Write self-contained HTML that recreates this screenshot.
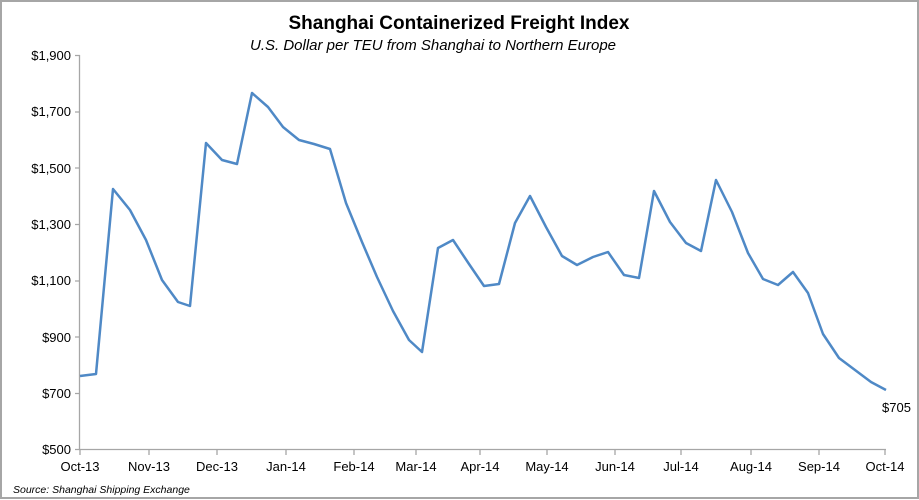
<!DOCTYPE html>
<html><head><style>
body{margin:0;background:#fff;}
svg{display:block;font-family:"Liberation Sans",Arial,sans-serif;}
</style></head><body>
<svg width="919" height="500" viewBox="0 0 919 500">
<rect x="1" y="1" width="917" height="497" fill="#fff" stroke="#a6a6a6" stroke-width="2"/>
<text x="459" y="29" text-anchor="middle" font-size="19" font-weight="bold">Shanghai Containerized Freight Index</text>
<text x="433" y="50" text-anchor="middle" font-size="15" font-style="italic">U.S. Dollar per TEU from Shanghai to Northern Europe</text>
<g stroke="#a6a6a6" stroke-width="1.3" fill="none">
<line x1="79.5" y1="55" x2="79.5" y2="450"/>
<line x1="79" y1="449.5" x2="886" y2="449.5"/>
<path d="M75 55.5h5M75 112h5M75 168h5M75 224.5h5M75 281h5M75 337h5M75 393.5h5M75 449.5h5"/>
<path d="M80 450v5M149 450v5M217 450v5M286 450v5M354 450v5M416 450v5M480 450v5M547 450v5M615 450v5M681 450v5M751 450v5M819 450v5M885 450v5"/>
</g>
<g font-size="13" text-anchor="end" fill="#000">
<text x="71" y="60">$1,900</text><text x="71" y="116">$1,700</text><text x="71" y="173">$1,500</text><text x="71" y="229">$1,300</text><text x="71" y="285">$1,100</text><text x="71" y="342">$900</text><text x="71" y="398">$700</text><text x="71" y="454">$500</text>
</g>
<g font-size="13" text-anchor="middle" fill="#000">
<text x="80" y="471">Oct-13</text><text x="149" y="471">Nov-13</text><text x="217" y="471">Dec-13</text><text x="286" y="471">Jan-14</text><text x="354" y="471">Feb-14</text><text x="416" y="471">Mar-14</text><text x="480" y="471">Apr-14</text><text x="547" y="471">May-14</text><text x="615" y="471">Jun-14</text><text x="681" y="471">Jul-14</text><text x="751" y="471">Aug-14</text><text x="819" y="471">Sep-14</text><text x="885" y="471">Oct-14</text>
</g>
<polyline fill="none" stroke="#4f89c6" stroke-width="2.5" stroke-linejoin="round" points="80,376 96,374 113,189 130,210 146,240 162,280 178,302 190,306 206,143 222,160 237,164 252,93 268,107 283,127 299,140 314,144 330,149 346,203 362,242 377,277 393,311 409,340 422,352 438,248 453,240 469,264 484,286 499,284 515,223 530,196 546,227 562,256 577,265 593,257 608,252 624,275 639,278 654,191 670,222 686,243 701,251 716,180 732,212 748,253 763,279 778,285 793,272 808,293 823,334 839,358 855,370 871,382 886,390"/>
<text x="882" y="412" font-size="13">$705</text>
<text x="13" y="493" font-size="10.5" font-style="italic">Source: Shanghai Shipping Exchange</text>
</svg>
</body></html>
